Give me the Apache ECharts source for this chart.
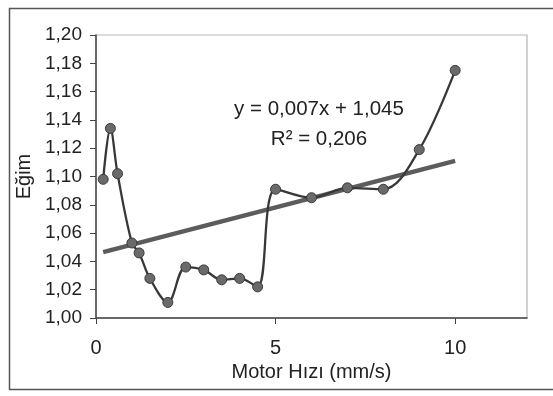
<!DOCTYPE html>
<html>
<head>
<meta charset="utf-8">
<script src="https://cdn.jsdelivr.net/npm/echarts@6/dist/echarts.min.js"></script>
<style>
html,body{margin:0;padding:0;background:#fff;}
#chart{width:553px;height:396px;}
</style>
</head>
<body>
<div id="chart"></div>
<script>
// Data
const motorSpeed = [0.2, 0.4, 0.6, 1.0, 1.2, 1.5, 2.0, 2.5, 3.0, 3.5, 4.0, 4.5, 5.0, 6.0, 7.0, 8.0, 9.0, 10.0];
const slopeValues = [1.098, 1.134, 1.102, 1.053, 1.046, 1.028, 1.011, 1.036, 1.034, 1.027, 1.028, 1.022, 1.091, 1.085, 1.092, 1.091, 1.119, 1.175];
const trendX = [0.2, 10.0];
const trendY = [1.0466, 1.1110];
const xTicks = [0, 5, 10];
const equationLines = ['y = 0,007x + 1,045', 'R² = 0,206'];
const xAxisName = 'Motor Hızı (mm/s)';
const yAxisName = 'Eğim';

const FONT = '"Liberation Sans", Arial, sans-serif';
const chart = echarts.init(document.getElementById('chart'), null, {renderer: 'canvas'});

chart.setOption({
  animation: false,
  backgroundColor: '#fff',
  grid: {left: 96, top: 35, right: 26, bottom: 78, show: true, borderColor: '#b5b5b5', borderWidth: 1.2, backgroundColor: 'transparent'},
  xAxis: {
    type: 'value', min: 0, max: 12, interval: 5,
    name: xAxisName, nameLocation: 'middle', nameGap: 43,
    nameTextStyle: {fontFamily: FONT, fontSize: 20, color: '#222'},
    axisLine: {show: true, lineStyle: {color: '#444', width: 1.5}},
    axisTick: {show: true, length: 6, customValues: xTicks, lineStyle: {color: '#444', width: 1}},
    axisLabel: {customValues: xTicks, margin: 20, fontFamily: FONT, fontSize: 20, color: '#222'},
    splitLine: {show: false}
  },
  yAxis: {
    type: 'value', min: 1.00, max: 1.20, interval: 0.02,
    name: yAxisName, nameLocation: 'middle', nameGap: 59, nameRotate: 90,
    nameTextStyle: {fontFamily: FONT, fontSize: 20, color: '#222'},
    axisLine: {show: true, lineStyle: {color: '#444', width: 1.5}},
    axisTick: {show: true, length: 6, lineStyle: {color: '#444', width: 1}},
    axisLabel: {margin: 14, fontFamily: FONT, fontSize: 19, color: '#222',
      formatter: v => v.toFixed(2).replace('.', ',')},
    splitLine: {show: false}
  },
  series: [
    {
      type: 'line', name: 'trend', z: 2,
      data: trendX.map((x, i) => [x, trendY[i]]),
      symbol: 'none',
      lineStyle: {color: '#5c5c5c', width: 4.5}
    },
    {
      type: 'line', name: 'data', z: 3,
      data: motorSpeed.map((x, i) => [x, slopeValues[i]]),
      smooth: 0.35,
      symbol: 'circle', symbolSize: 10,
      itemStyle: {color: '#6a6a6a', borderColor: '#3a3a3a', borderWidth: 1},
      lineStyle: {color: '#383838', width: 2.3}
    }
  ],
  graphic: [
    {type: 'rect', left: 7, top: 6, shape: {width: 570, height: 381},
     style: {fill: 'none', stroke: '#555', lineWidth: 1.5}, silent: true},
    {type: 'text', x: 319, y: 109, style: {text: equationLines[0], font: '20.5px ' + FONT, fill: '#222', textAlign: 'center', textVerticalAlign: 'middle'}},
    {type: 'text', x: 319, y: 139, style: {text: equationLines[1], font: '20.5px ' + FONT, fill: '#222', textAlign: 'center', textVerticalAlign: 'middle'}}
  ]
});
</script>
</body>
</html>
